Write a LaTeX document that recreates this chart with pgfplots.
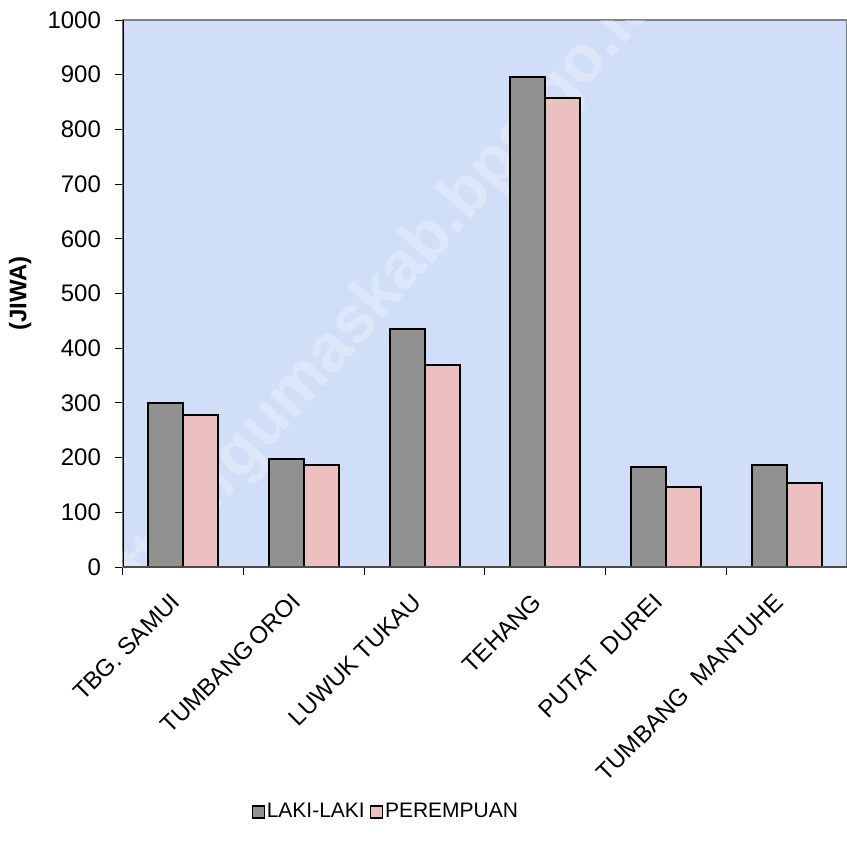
\documentclass[border=0pt]{standalone}
\usepackage{pgfplots}
\pgfplotsset{compat=1.18}
\usepackage{fontspec}
\setmainfont{Liberation Sans}
\definecolor{bgblue}{RGB}{208,222,247}
\definecolor{lakigray}{RGB}{145,145,145}
\definecolor{perpink}{RGB}{236,192,192}
\begin{document}
\begin{tikzpicture}
\begin{axis}[
    width=362pt, height=273.5pt, scale only axis,
    at={(0,0)}, anchor=south west,
    xmin=-0.5, xmax=5.5, ymin=0, ymax=1000,
    ybar=0pt, bar width=17.5pt,
    axis background/.style={fill=bgblue},
    axis line style={draw=gray, line width=0.75pt},
    font=\fontsize{12}{14}\selectfont,
    /pgf/number format/assume math mode=true,
    /pgf/number format/1000 sep={},
    ytick={0,100,...,1000},
    yticklabel style={xshift=-3.5pt},
    xtick={0,...,5},
    xticklabels={TBG. SAMUI, TUMBANG\,OROI, LUWUK TUKAU, TEHANG, PUTAT\ \ DUREI, TUMBANG\ \ MANTUHE},
    minor xtick={-0.5,0.5,...,5.5},
    tick align=outside, tick pos=left,
    major tick length=4pt, minor tick length=4pt,
    every tick/.style={black, line width=0.5pt},
    major x tick style={draw=none},
    xticklabel style={xshift=-1.5pt, yshift=-9pt, rotate=45, anchor=east},
    ylabel={\bfseries (JIWA)},
    ylabel style={at={(axis description cs:-0.1422,0.5)}, anchor=center},
    legend columns=2,
    legend style={draw=none, fill=none, font=\fontsize{10.5}{12}\selectfont,
        at={(axis description cs:0.363,-0.448)}, anchor=center,
        /tikz/every even column/.append style={column sep=1.5pt},
        nodes={inner sep=1pt}},
    legend image code/.code={\draw[#1, line width=0.6pt] (0pt,-3pt) rectangle (6pt,3pt);},
]
\node[rotate=48.8, text=white, opacity=0.3, font=\bfseries\fontsize{33}{36}\selectfont]
    at (axis cs:1.61,488) {http://gumaskab.bps.go.id};
\addplot[draw=black, line width=1pt, fill=lakigray] coordinates {
    (0,300) (1,197) (2,435) (3,895) (4,183) (5,186)};
\addplot[draw=black, line width=1pt, fill=perpink] coordinates {
    (0,278) (1,186) (2,369) (3,858) (4,146) (5,154)};
\legend{LAKI-LAKI, PEREMPUAN}
\draw[black, line width=0.75pt] (rel axis cs:0,0) -- (rel axis cs:0,1);
\draw[black!70, line width=0.75pt] (rel axis cs:0,0) -- (rel axis cs:1,0);
\end{axis}
\pgfresetboundingbox
\useasboundingbox (-61.5pt,-140pt) rectangle (362pt,283.5pt);
\end{tikzpicture}
\end{document}
